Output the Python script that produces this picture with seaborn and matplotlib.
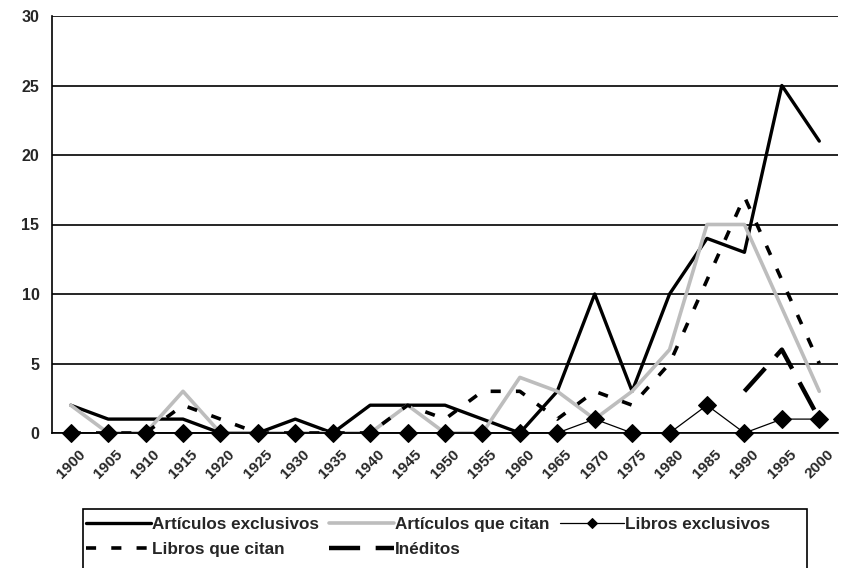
import numpy as np
import pandas as pd
import matplotlib
matplotlib.use("Agg")
import matplotlib.pyplot as plt
import seaborn as sns
from matplotlib.ticker import MultipleLocator, FixedLocator
from matplotlib.patches import Rectangle

# %% data
years = list(range(1900, 2001, 5))
articulos_exclusivos = [2, 1, 1, 1, 0, 0, 1, 0, 2, 2, 2, 1, 0, 3, 10, 3, 10, 14, 13, 25, 21]
articulos_que_citan = [2, 0, 0, 3, 0, 0, 0, 0, 0, 2, 0, 0, 4, 3, 1, 3, 6, 15, 15, 9, 3]
libros_exclusivos = [0, 0, 0, 0, 0, 0, 0, 0, 0, 0, 0, 0, 0, 0, 1, 0, 0, 2, 0, 1, 1]
libros_que_citan = [0, 0, 0, 2, 1, 0, 0, 0, 0, 2, 1, 3, 3, 1, 3, 2, 5, 11, 17, 11, 5]
ineditos = [np.nan] * 18 + [3, 6, 1]

df = pd.DataFrame({
    "year": years,
    "Artículos exclusivos": articulos_exclusivos,
    "Artículos que citan": articulos_que_citan,
    "Libros exclusivos": libros_exclusivos,
    "Libros que citan": libros_que_citan,
    "Inéditos": ineditos,
})

# %% plot
sns.set_style("white")
plt.rcParams["font.family"] = ["Liberation Sans", "DejaVu Sans"]
plt.rcParams["font.weight"] = "bold"

fig = plt.figure(figsize=(8.43, 5.68), dpi=100)
ax = fig.add_axes([52/843, 1-433/568, (838-52)/843, (433-16)/568])

sns.lineplot(data=df, x="year", y="Artículos exclusivos", ax=ax, color="black",
             lw=2.4, label="Artículos exclusivos")
sns.lineplot(data=df, x="year", y="Artículos que citan", ax=ax, color="#bdbdbd",
             lw=2.6, label="Artículos que citan")
sns.lineplot(data=df, x="year", y="Libros que citan", ax=ax, color="black",
             lw=2.6, dashes=(2.8, 4.2), label="Libros que citan")
sns.lineplot(data=df.dropna(), x="year", y="Inéditos", ax=ax, color="black",
             lw=3.2, dashes=(7, 3.5), label="Inéditos")
sns.lineplot(data=df, x="year", y="Libros exclusivos", ax=ax, color="black",
             lw=0.9, marker="D", markersize=9, markeredgecolor="black",
             label="Libros exclusivos", zorder=5, clip_on=False)

ax.set_xlim(1897.5, 2002.5)
ax.set_ylim(0, 30)
ax.yaxis.set_major_locator(MultipleLocator(5))
ax.set_xticks(years)
ax.xaxis.set_minor_locator(FixedLocator(np.arange(1897.5, 2003, 5)))
ax.tick_params(axis="x", which="major", length=0, pad=10)
ax.tick_params(axis="x", which="minor", length=4, width=1, direction="out", color="black")
ax.tick_params(axis="y", length=4, width=1, direction="out", color="black", pad=5)
ax.set_xticklabels(years, rotation=45, ha="center", va="top", fontsize=11, fontweight="bold")
for t in ax.get_yticklabels():
    t.set_fontsize(11.5)
    t.set_fontweight("bold")
ax.grid(axis="y", color="black", lw=1.2)
ax.set_axisbelow(True)
ax.set_xlabel("")
ax.set_ylabel("")
for s in ["top", "right"]:
    ax.spines[s].set_visible(False)
for s in ["left", "bottom"]:
    ax.spines[s].set_color("black")
    ax.spines[s].set_linewidth(1.2)

# legend: box runs past the bottom edge as in the original
fig.patches.append(Rectangle((83/843, -0.05), (807-83)/843, 0.05 + (1-509/568),
                             transform=fig.transFigure, fill=False,
                             edgecolor="black", lw=1.2))
h, l = ax.get_legend_handles_labels()
d = dict(zip(l, h))
order = ["Artículos exclusivos", "Libros que citan", "Artículos que citan", "Inéditos", "Libros exclusivos"]
leg = ax.legend([d[k] for k in order], order, ncol=3, loc="upper left",
                bbox_to_anchor=(86/843, 1-517/568), bbox_transform=fig.transFigure,
                frameon=False, prop={"size": 12.3, "weight": "bold"}, handlelength=3.8,
                handletextpad=0.05, columnspacing=0.6, labelspacing=0.6,
                borderpad=0, borderaxespad=0)
for line in leg.get_lines():
    if line.get_marker() == "D":
        line.set_markersize(5)

fig.savefig("out.png", dpi=100)
